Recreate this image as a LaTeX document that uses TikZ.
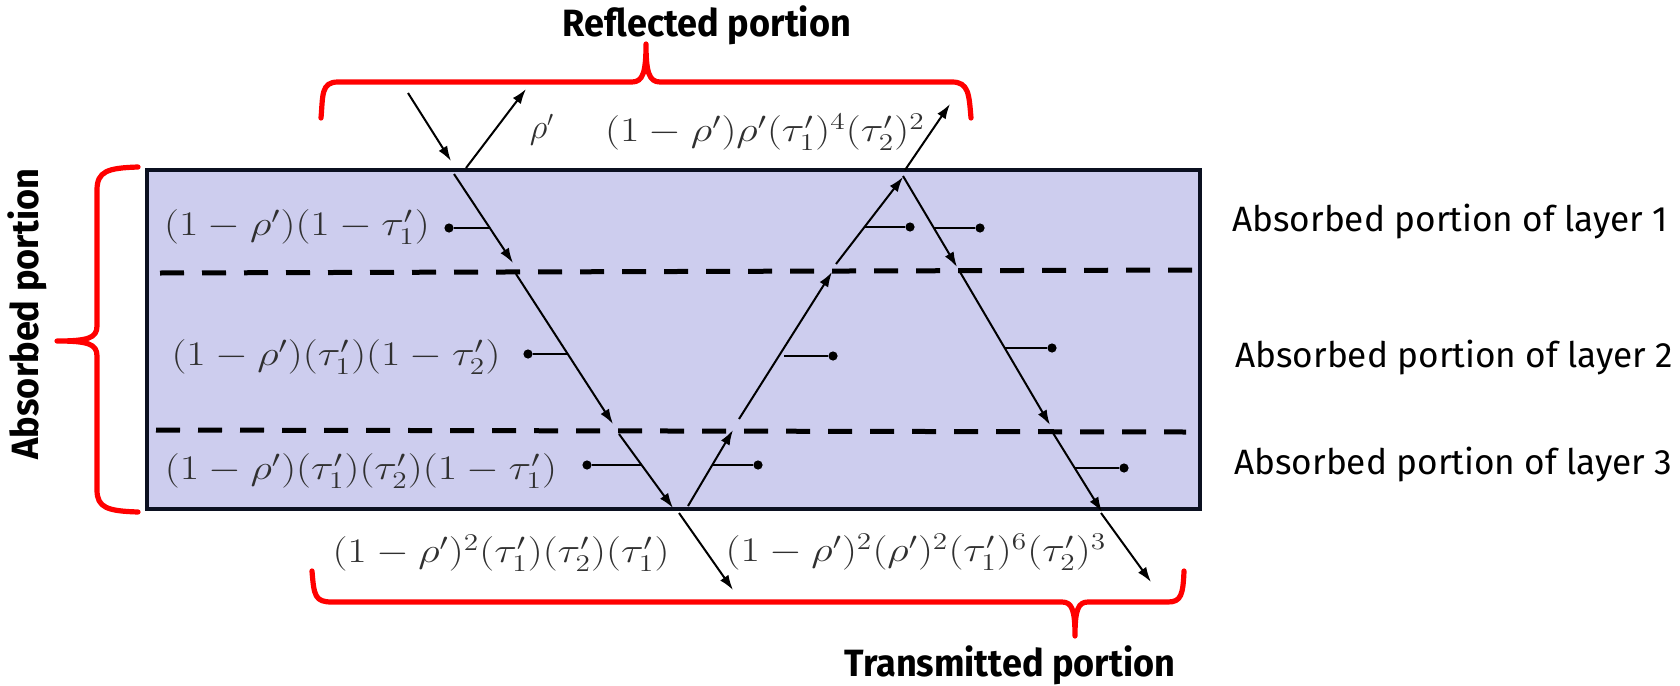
\documentclass[tikz,border=0pt]{standalone}
\usepackage[no-math]{fontspec}
\usepackage{graphicx}
\usetikzlibrary{arrows.meta}
\newfontfamily\labfont{Fira Sans}
\newfontfamily\titfont[FakeStretch=0.95]{Fira Sans}
\definecolor{slabfill}{HTML}{CDCDEE}
\definecolor{slabedge}{HTML}{0B1020}
\definecolor{mathgray}{HTML}{303030}
\newcommand{\mwide}[1]{\scalebox{1.22}[1]{$#1$}}
\begin{document}
\begin{tikzpicture}[x=0.5pt,y=-0.5pt,
  ray/.style={line width=1pt,-{Latex[length=7.5pt,width=5pt]}},
  tickline/.style={line width=1pt},
  dotn/.style={circle,fill=black,inner sep=0pt,minimum size=4.6pt},
  brace/.style={draw=red,line width=2.6pt,line cap=round,line join=round},
  layerline/.style={line width=2.5pt,dash pattern=on 12pt off 9pt},
  mlab/.style={text=mathgray,font=\fontsize{17}{19}\selectfont,inner sep=0pt},
  slab/.style={font=\labfont\fontsize{17.6}{20}\selectfont,inner sep=0pt},
  titlelab/.style={font=\titfont\bfseries\fontsize{19}{22}\selectfont,inner sep=0pt}]
\useasboundingbox (0,0) rectangle (1680,685);

% slab
\draw[line width=2pt,draw=slabedge,fill=slabfill] (147,170) rectangle (1200,509);
\draw[layerline] (160,273) -- (1192,270);
\draw[layerline] (156,430) -- (1186,432);

% ray points
\coordinate (r1a) at (408,93);   \coordinate (r1b) at (451,161);
\coordinate (r2a) at (466,168);  \coordinate (r2b) at (526,89);
\coordinate (r3a) at (454,174);  \coordinate (r3b) at (513,263);
\coordinate (r4a) at (516,274);  \coordinate (r4b) at (613,424);
\coordinate (r5a) at (619,434);  \coordinate (r5b) at (673,508);
\coordinate (r6a) at (679,513);  \coordinate (r6b) at (733,590);
\coordinate (r7a) at (688,506);  \coordinate (r7b) at (733,430);
\coordinate (r8a) at (739,419);  \coordinate (r8b) at (832,272);
\coordinate (r9a) at (836,264);  \coordinate (r9b) at (903,177);
\coordinate (r10a) at (905,170); \coordinate (r10b) at (950,104);
\coordinate (r11a) at (903,176); \coordinate (r11b) at (957,267);
\coordinate (r12a) at (960,272); \coordinate (r12b) at (1050,425);
\coordinate (r13a) at (1053,433);\coordinate (r13b) at (1102,512);
\coordinate (r14a) at (1101,513);\coordinate (r14b) at (1151,582);

\foreach \i in {1,...,14} {\draw[ray] (r\i a) -- (r\i b);}

% absorption ticks
\coordinate (t1) at (490,228);   \node[dotn] (d1) at (449,228) {};
\coordinate (t2) at (568,354);   \node[dotn] (d2) at (528,354) {};
\coordinate (t3) at (641,465);   \node[dotn] (d3) at (587,465) {};
\coordinate (t4) at (712,465);   \node[dotn] (d4) at (758,465) {};
\coordinate (t5) at (784,356);   \node[dotn] (d5) at (833,356) {};
\coordinate (t6) at (865,227);   \node[dotn] (d6) at (910,227) {};
\coordinate (t7) at (934,228);   \node[dotn] (d7) at (980,228) {};
\coordinate (t8) at (1005,348);  \node[dotn] (d8) at (1052,348) {};
\coordinate (t9) at (1075,468);  \node[dotn] (d9) at (1124,468) {};
\foreach \i in {1,...,9} {\draw[tickline] (t\i) -- (d\i);}

% math labels
\node[mlab,font=\fontsize{16}{18}\selectfont] (lrho) at (542,130) {$\rho'$};
\node[mlab] (lref2) at (765,132) {\mwide{(1-\rho')\rho'(\tau_1')^4(\tau_2')^2}};
\node[mlab] (la1) at (297,227) {\mwide{(1-\rho')(1-\tau_1')}};
\node[mlab] (la2) at (336,357) {\mwide{(1-\rho')(\tau_1')(1-\tau_2')}};
\node[mlab] (la3) at (361,471) {\mwide{(1-\rho')(\tau_1')(\tau_2')(1-\tau_1')}};
\node[mlab] (lt1) at (501,553) {\mwide{(1-\rho')^2(\tau_1')(\tau_2')(\tau_1')}};
\node[mlab] (lt2) at (916,552) {\mwide{(1-\rho')^2(\rho')^2(\tau_1')^6(\tau_2')^3}};

% right labels
\node[slab,anchor=west] (lay1) at (1232,222) {Absorbed portion of layer 1};
\node[slab,anchor=west] (lay2) at (1235,358) {Absorbed portion of layer 2};
\node[slab,anchor=west] (lay3) at (1234,465) {Absorbed portion of layer 3};

% titles
\node[titlelab] (treflect) at (707,25) {Reflected portion};
\node[titlelab] (ttrans) at (1010,665) {Transmitted portion};
\node[titlelab,rotate=90] (tabs) at (27,314) {Absorbed portion};

% braces
\draw[brace] (321,118) .. controls (323,95) and (321,82) .. (338,82) -- (632,82)
  .. controls (643,82) and (646,72) .. (646,44)
  .. controls (646,72) and (649,82) .. (660,82) -- (952,82)
  .. controls (969,82) and (969,95) .. (971,118);
\draw[brace] (138,167) .. controls (108,168) and (97,171) .. (97,190) -- (97,326)
  .. controls (97,338) and (88,341) .. (57,341)
  .. controls (88,341) and (97,344) .. (97,356) -- (97,490)
  .. controls (97,508) and (108,511) .. (138,512);
\draw[brace] (312,571) .. controls (314,596) and (315,602) .. (332,602) -- (1062,602)
  .. controls (1072,602) and (1075,610) .. (1075,636)
  .. controls (1075,610) and (1078,602) .. (1088,602) -- (1168,602)
  .. controls (1181,602) and (1183,595) .. (1184,571);
\end{tikzpicture}
\end{document}
